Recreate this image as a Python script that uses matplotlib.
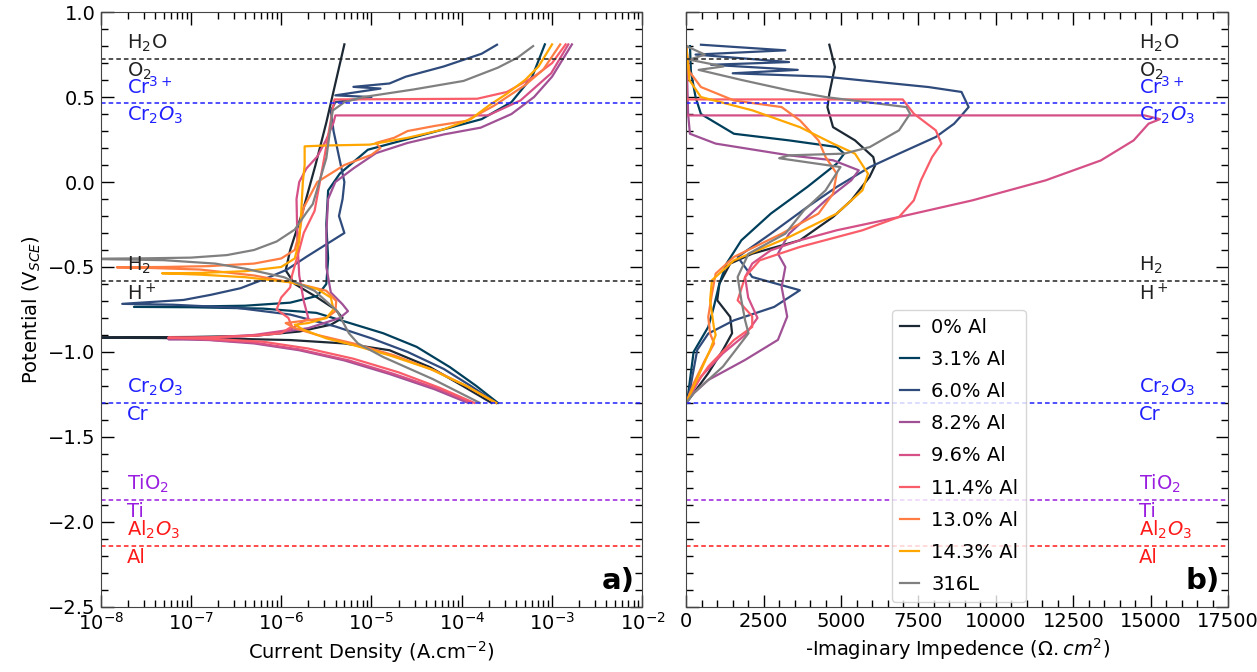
import matplotlib
matplotlib.use("Agg")
import matplotlib.pyplot as plt
import numpy as np

# ---- legend / colours ----
labels = ["0% Al", "3.1% Al", "6.0% Al", "8.2% Al", "9.6% Al",
          "11.4% Al", "13.0% Al", "14.3% Al", "316L"]
colors = ["#1c2833", "#003f5c", "#2f4b7c", "#a05195", "#d45087",
          "#f95d6a", "#ff7c43", "#ffa600", "#808080"]

# ---- a) potentiodynamic curves: log10(i / A.cm-2) and E (V_SCE) ----
pd_00_logi = [-3.67, -3.99, -4.35, -4.80, -5.30, -5.90, -6.60, -7.40, -8.30, -7.00, -6.30, -5.80,
              -5.45, -5.32, -5.40, -5.60, -5.85, -5.95, -5.90, -5.76, -5.62, -5.50, -5.40, -5.30]
pd_00_E = [-1.30, -1.20, -1.09, -0.99, -0.95, -0.93, -0.922, -0.918, -0.916, -0.912, -0.905, -0.88,
           -0.84, -0.80, -0.75, -0.68, -0.60, -0.52, -0.40, -0.17, 0.10, 0.35, 0.58, 0.81]

pd_31_logi = [-3.60, -3.84, -4.13, -4.50, -4.87, -5.24, -5.61, -6.20, -7.00, -7.63, -7.00, -6.40,
              -5.90, -5.60, -5.50, -5.48, -5.50, -5.48, -5.35, -5.04, -4.41, -3.78, -3.45, -3.22, -3.08]
pd_31_E = [-1.30, -1.20, -1.09, -0.97, -0.89, -0.83, -0.77, -0.745, -0.737, -0.735, -0.733, -0.728,
           -0.71, -0.67, -0.60, -0.45, -0.25, -0.05, 0.05, 0.19, 0.28, 0.37, 0.47, 0.62, 0.81]

pd_60_logi = [-3.62, -3.90, -4.20, -4.60, -5.00, -5.40, -5.90, -6.50, -7.20, -7.76, -7.08, -6.78,
              -6.45, -6.16, -5.94, -5.72, -5.42, -5.30, -5.36, -5.32, -5.30, -5.34, -5.38, -5.42,
              -5.45, -5.40, -5.00, -5.40, -4.90, -5.20, -4.80, -4.62, -4.20, -3.78, -3.61]
pd_60_E = [-1.30, -1.20, -1.10, -1.00, -0.92, -0.85, -0.78, -0.74, -0.722, -0.717, -0.694, -0.664,
           -0.625, -0.566, -0.517, -0.44, -0.34, -0.30, -0.20, -0.10, 0.00, 0.10, 0.20, 0.30,
           0.42, 0.47, 0.50, 0.51, 0.55, 0.56, 0.58, 0.62, 0.68, 0.755, 0.808]

pd_82_logi = [-3.93, -4.30, -4.80, -5.30, -5.80, -6.30, -6.80, -7.25, -6.80, -6.20, -5.70, -5.35,
              -5.26, -5.32, -5.45, -5.50, -5.50, -5.48, -5.40, -5.20, -4.95, -4.60, -4.20, -3.79,
              -3.45, -3.20, -3.00, -2.78]
pd_82_E = [-1.30, -1.22, -1.13, -1.05, -0.99, -0.95, -0.93, -0.925, -0.92, -0.90, -0.86, -0.80,
           -0.76, -0.72, -0.65, -0.50, -0.30, -0.10, 0.00, 0.08, 0.17, 0.23, 0.28, 0.32,
           0.40, 0.50, 0.62, 0.81]

pd_96_logi = [-3.89, -4.25, -4.75, -5.25, -5.80, -6.30, -6.90, -7.25, -6.80, -6.30, -5.90, -5.70,
              -5.75, -5.80, -5.82, -5.83, -5.80, -5.72, -5.60, -5.50, -5.42, -5.40, -3.71, -3.35,
              -3.01, -2.82]
pd_96_E = [-1.30, -1.22, -1.13, -1.05, -0.985, -0.945, -0.925, -0.918, -0.915, -0.90, -0.87, -0.80,
           -0.70, -0.55, -0.35, -0.10, 0.00, 0.08, 0.15, 0.25, 0.35, 0.392, 0.392, 0.48,
           0.64, 0.81]

pd_114_logi = [-3.86, -4.25, -4.70, -5.20, -5.70, -6.20, -6.80, -7.25, -6.80, -6.30, -6.00, -5.88,
               -5.92, -6.05, -6.00, -5.90, -5.88, -5.80, -5.75, -5.63, -5.52, -5.41, -3.83, -3.50,
               -3.20, -3.00, -2.85]
pd_114_E = [-1.30, -1.21, -1.12, -1.04, -0.98, -0.94, -0.922, -0.916, -0.914, -0.905, -0.89, -0.85,
            -0.80, -0.75, -0.68, -0.62, -0.55, -0.40, -0.30, -0.17, 0.15, 0.486, 0.49, 0.53,
            0.62, 0.70, 0.81]

pd_130_logi = [-3.62, -3.95, -4.30, -4.75, -5.20, -5.60, -5.85, -5.95, -5.80, -5.50, -5.40, -5.39,
               -5.50, -5.80, -6.30, -6.90, -7.50, -7.82, -7.30, -6.80, -6.30, -6.00, -5.85, -5.80,
               -5.75, -5.60, -5.30, -5.00, -4.90, -4.95, -4.75, -4.60, -4.30, -3.95, -3.64, -3.30,
               -3.10, -2.91]
pd_130_E = [-1.30, -1.20, -1.11, -1.02, -0.95, -0.90, -0.86, -0.83, -0.82, -0.80, -0.76, -0.70,
            -0.64, -0.60, -0.55, -0.515, -0.505, -0.502, -0.50, -0.495, -0.48, -0.45, -0.40, -0.30,
            -0.15, 0.00, 0.10, 0.16, 0.20, 0.23, 0.26, 0.30, 0.33, 0.36, 0.45, 0.57,
            0.66, 0.81]

pd_143_logi = [-3.62, -3.95, -4.35, -4.80, -5.20, -5.50, -5.75, -5.85, -5.70, -5.50, -5.42, -5.45,
               -5.60, -5.90, -6.40, -6.90, -7.32, -6.90, -6.40, -6.00, -5.85, -5.80, -5.78, -5.76,
               -5.74, -5.74, -5.50, -5.02, -4.60, -4.20, -3.90, -3.70, -3.50, -3.30, -3.15, -3.00]
pd_143_E = [-1.30, -1.20, -1.10, -1.02, -0.96, -0.92, -0.87, -0.84, -0.83, -0.80, -0.75, -0.68,
            -0.63, -0.59, -0.56, -0.545, -0.537, -0.535, -0.525, -0.50, -0.45, -0.35, -0.20, 0.00,
            0.10, 0.21, 0.215, 0.22, 0.26, 0.31, 0.37, 0.45, 0.52, 0.60, 0.68, 0.81]

pd_316_logi = [-3.80, -4.32, -4.87, -5.15, -5.25, -5.38, -5.63, -5.97, -6.40, -6.73, -7.30, -8.20,
               -7.50, -7.00, -6.60, -6.30, -6.05, -5.85, -5.72, -5.65, -5.50, -5.43, -5.30, -5.09,
               -4.53, -3.98, -3.60, -3.38, -3.21]
pd_316_E = [-1.30, -1.16, -1.03, -0.95, -0.89, -0.76, -0.64, -0.56, -0.51, -0.48, -0.46, -0.452,
            -0.449, -0.445, -0.43, -0.40, -0.35, -0.28, -0.18, -0.13, 0.14, 0.42, 0.47, 0.50,
            0.545, 0.595, 0.673, 0.733, 0.80]

# ---- b) imaginary impedance (Ohm.cm2) vs E (V_SCE) ----
z_00 = [4620, 4800, 4620, 4560, 4740, 5450, 6040, 6100, 5920, 5330, 4740, 3670, 2130, 1420,
        1070, 1000, 1420, 1480, 1185, 710, 237, 0]
z_00_E = [0.808, 0.677, 0.52, 0.44, 0.323, 0.245, 0.147, 0.098, 0.03, -0.108, -0.206, -0.343,
          -0.422, -0.48, -0.598, -0.696, -0.794, -0.89, -0.988, -1.125, -1.243, -1.30]

z_31 = [120, 150, 300, 474, 1540, 3320, 4860, 5100, 4860, 3910, 2730, 1780, 1300, 1070, 890,
        710, 237, 60, 0]
z_31_E = [0.80, 0.65, 0.50, 0.40, 0.284, 0.245, 0.206, 0.167, 0.108, -0.029, -0.186, -0.343,
          -0.48, -0.598, -0.735, -0.853, -1.00, -1.25, -1.30]

z_60 = [474, 3200, 300, 3320, 800, 3600, 1500, 4500, 5690, 7820, 8890, 9120, 8890, 8650, 8060,
        6870, 5930, 4860, 3910, 2730, 1660, 2130, 3670, 2840, 1540, 710, 355, 60, 0]
z_60_E = [0.808, 0.775, 0.75, 0.706, 0.69, 0.66, 0.64, 0.62, 0.598, 0.559, 0.53, 0.441, 0.392,
          0.343, 0.265, 0.167, 0.088, -0.029, -0.147, -0.304, -0.441, -0.559, -0.637, -0.735,
          -0.814, -0.892, -0.988, -1.28, -1.30]

z_82 = [0, 30, 60, 118, 950, 3320, 4740, 5570, 5330, 4500, 3320, 2960, 3200, 3080, 3260, 2960,
        1900, 710, 118, 0]
z_82_E = [0.80, 0.60, 0.40, 0.284, 0.226, 0.157, 0.128, 0.069, 0.01, -0.108, -0.304, -0.422,
          -0.50, -0.618, -0.792, -0.929, -1.047, -1.165, -1.263, -1.30]

z_96 = [0, 0, 14800, 15300, 14930, 14450, 13390, 11610, 9240, 6870, 4860, 3670, 2730, 2130,
        1900, 2000, 2300, 1900, 1185, 474, 0]
z_96_E = [0.80, 0.392, 0.392, 0.37, 0.343, 0.245, 0.127, 0.01, -0.108, -0.206, -0.284, -0.343,
          -0.402, -0.48, -0.56, -0.68, -0.80, -0.90, -1.008, -1.145, -1.30]

z_114 = [0, 0, 6990, 7350, 8060, 8240, 7940, 7580, 7350, 6870, 5690, 3670, 2370, 1900, 1660,
         2130, 2130, 1540, 710, 118, 0]
z_114_E = [0.80, 0.486, 0.486, 0.402, 0.304, 0.226, 0.147, 0.01, -0.108, -0.206, -0.284, -0.382,
           -0.461, -0.559, -0.696, -0.79, -0.853, -0.93, -1.086, -1.243, -1.30]

z_130 = [0, 100, 474, 1540, 3080, 3670, 4270, 4500, 4860, 4740, 4270, 3080, 1540, 950, 830,
         710, 770, 900, 600, 237, 0]
z_130_E = [0.80, 0.65, 0.559, 0.48, 0.441, 0.363, 0.245, 0.147, 0.049, -0.069, -0.186, -0.304,
           -0.441, -0.539, -0.657, -0.794, -0.892, -0.95, -1.05, -1.186, -1.30]

z_143 = [0, 100, 474, 2130, 3670, 4740, 5450, 5870, 5690, 4860, 3320, 1540, 830, 770, 890, 950,
         770, 237, 0]
z_143_E = [0.80, 0.60, 0.50, 0.422, 0.323, 0.226, 0.167, 0.049, -0.049, -0.186, -0.324, -0.461,
           -0.578, -0.696, -0.853, -0.90, -0.988, -1.204, -1.30]

z_316 = [0, 600, 100, 1200, 400, 1800, 3320, 4500, 7110, 7230, 6870, 5930, 5100, 3320, 3000,
         4980, 4500, 3800, 3200, 2010, 1660, 1780, 1900, 2010, 1185, 237, 0]
z_316_E = [0.80, 0.75, 0.72, 0.68, 0.66, 0.60, 0.539, 0.50, 0.441, 0.402, 0.304, 0.206, 0.167,
           0.157, 0.14, 0.088, -0.049, -0.167, -0.304, -0.422, -0.559, -0.696, -0.814, -0.89,
           -1.086, -1.243, -1.30]

pd_sets = [(pd_00_logi, pd_00_E), (pd_31_logi, pd_31_E), (pd_60_logi, pd_60_E),
           (pd_82_logi, pd_82_E), (pd_96_logi, pd_96_E), (pd_114_logi, pd_114_E),
           (pd_130_logi, pd_130_E), (pd_143_logi, pd_143_E), (pd_316_logi, pd_316_E)]
z_sets = [(z_00, z_00_E), (z_31, z_31_E), (z_60, z_60_E), (z_82, z_82_E), (z_96, z_96_E),
          (z_114, z_114_E), (z_130, z_130_E), (z_143, z_143_E), (z_316, z_316_E)]

# equilibrium lines: potential, colour, label above, label below
eq_E = [0.724, 0.465, -0.582, -1.30, -1.87, -2.14]
eq_col = ["#222222", "#2020ff", "#222222", "#2020ff", "#9a1ee0", "#ff1a1a"]
eq_top = ["H$_2$O", "Cr$^{3+}$", "H$_2$", "Cr$_2O_3$", "TiO$_2$", "Al$_2O_3$"]
eq_bot = ["O$_2$", "Cr$_2O_3$", "H$^+$", "Cr", "Ti", "Al"]

fig, (ax1, ax2) = plt.subplots(1, 2, figsize=(12.57, 6.72), dpi=100, sharey=True)
plt.subplots_adjust(left=0.080, right=0.977, top=0.982, bottom=0.097, wspace=0.081)

for (li, e), c, lab in zip(pd_sets, colors, labels):
    ax1.plot(10 ** np.array(li), e, color=c, lw=1.6, label=lab)
for (z, e), c, lab in zip(z_sets, colors, labels):
    ax2.plot(z, e, color=c, lw=1.6, label=lab)

for ax, xt in [(ax1, 0.048), (ax2, 0.836)]:
    tr = ax.get_yaxis_transform()
    for e, c, t, b in zip(eq_E, eq_col, eq_top, eq_bot):
        ax.axhline(e, color=c, ls=(0, (3, 2)), lw=1.1)
        ax.text(xt, e + 0.03, t, color=c, fontsize=14, transform=tr, va="bottom", ha="left")
        ax.text(xt, e - 0.012, b, color=c, fontsize=14, transform=tr, va="top", ha="left")

ax1.set_xscale("log")
ax1.set_xlim(1e-8, 1e-2)
ax1.set_ylim(-2.5, 1.0)
ax2.set_xlim(0, 17500)
ax1.set_yticks(np.arange(-2.5, 1.01, 0.5))
ax1.yaxis.set_minor_locator(matplotlib.ticker.MultipleLocator(0.1))
ax2.xaxis.set_major_locator(matplotlib.ticker.MultipleLocator(2500))
ax2.xaxis.set_minor_locator(matplotlib.ticker.MultipleLocator(500))
ax1.xaxis.set_minor_locator(matplotlib.ticker.LogLocator(base=10, subs=np.arange(2, 10), numticks=20))

for ax in (ax1, ax2):
    ax.tick_params(which="both", direction="in", top=True, right=True, labelsize=14)
    ax.tick_params(which="major", length=9, width=1)
    ax.tick_params(which="minor", length=5, width=1)
    for s in ax.spines.values():
        s.set_color("#444444")
ax2.tick_params(labelleft=False)

ax1.set_ylabel("Potential (V$_{SCE}$)", fontsize=14)
ax1.set_xlabel("Current Density (A.cm$^{-2}$)", fontsize=14)
ax2.set_xlabel("-Imaginary Impedence ($\\Omega.cm^2$)", fontsize=14)

ax1.text(0.985, 0.02, "a)", transform=ax1.transAxes, ha="right", va="bottom",
         fontsize=21, fontweight="bold")
ax2.text(0.985, 0.02, "b)", transform=ax2.transAxes, ha="right", va="bottom",
         fontsize=21, fontweight="bold")

ax2.legend(loc="lower left", bbox_to_anchor=(0.38, 0.008), borderaxespad=0, fontsize=14,
           handlelength=1.0, handletextpad=0.6, labelspacing=0.68)

plt.savefig("out.png", dpi=100)
